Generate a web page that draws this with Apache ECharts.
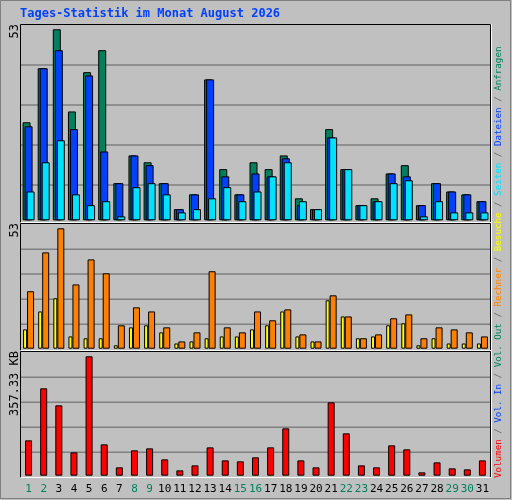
<!DOCTYPE html>
<html><head><meta charset="utf-8">
<script src="https://cdn.jsdelivr.net/npm/echarts@6/dist/echarts.min.js"></script>
<style>html,body{margin:0;padding:0;background:#c0c0c0}#c{width:512px;height:500px}</style>
</head><body><div id="c"></div>
<script>
const days = Array.from({length:31},(_,i)=>String(i+1));
const weekend = ['1','2','8','9','15','16','22','23','29','30'];
const anfragen = [27.2,42.2,53,30.2,41.1,47.2,10.3,18,16.1,10.3,3.1,7.2,39.1,14.2,7.2,16.1,14.2,18,6.1,3.1,25.3,14.2,4.2,6.1,13,15.3,4.2,10.3,8,7.2,5.3];
const dateien = [26.1,42.2,47.2,25.3,40.2,19.1,10.3,18,15.3,10.3,3.1,7.2,39.1,12.2,7.2,13,12.2,17.2,4.2,3.1,23,14.2,4.2,5.3,13,12.2,4.2,10.3,8,7.2,5.3];
const seiten = [8,16.1,22.2,7.2,4.2,5.3,1.1,9.2,10.3,7.2,2.2,3.1,6.1,9.2,5.3,8,12.2,16.1,5.3,3.1,23,14.2,4.2,5.3,10.3,11.1,1.1,5.3,2.2,2.2,2.2];
const besuche = [8.5,16.4,22.2,5.4,4.6,4.6,1.5,9.4,10.3,7.2,2.3,3.2,4.6,5.4,5.4,8.5,10.3,16.4,5.4,3.2,21.3,14.2,4.6,5.4,10.3,11.2,1.5,4.6,2.3,2.3,2.3];
const rechner = [25.3,42.4,53,28.3,39.3,33.2,10.3,18.2,16.4,9.4,3.2,7.2,34.1,9.4,7.2,16.4,12.5,17.3,6.3,3.2,23.5,14.2,4.6,6.3,13.4,15.1,4.6,9.4,8.5,7.2,5.4];
const volumen = [105.8,261.5,210.6,69.9,357.33,93.8,25,75.9,81.8,48.9,16,30.9,84.8,45.9,42.9,54.9,84.8,141.7,45.9,25,219.6,126.8,30.9,25,90.8,78.9,10,39.9,22,19,45.9];

const L=21, R=22;
const grids=[{left:L,right:R,top:29.3,height:191},{left:L,right:R,top:228.3,height:120.4},{left:L,right:R,top:356.3,height:119.4}];
const maxes=[53,53,357.33];
const mono='DejaVu Sans Mono';
const xAxis=grids.map((g,i)=>({gridIndex:i,type:'category',data:days,axisLine:{show:false},axisTick:{show:false},
  axisLabel:{show:i===2,interval:0,margin:8,fontFamily:mono,fontSize:11,formatter:v=>weekend.includes(v)?'{w|'+v+'}':'{n|'+v+'}',
    rich:{w:{color:'#00805c',fontFamily:mono,fontSize:11},n:{color:'#000',fontFamily:mono,fontSize:11}}}}));
const yAxis=grids.map((g,i)=>({gridIndex:i,type:'value',min:0,max:maxes[i],show:false,splitLine:{show:false}}));
const bs=(name,data,color,xi,extra)=>Object.assign({name,type:'bar',data,xAxisIndex:xi,yAxisIndex:xi,itemStyle:{color,borderColor:'#000',borderWidth:1},z:3},extra);
const series=[
 bs('Anfragen',anfragen,'#00805c',0,{barWidth:8,barGap:'-75%'}),
 bs('Dateien',dateien,'#0040ff',0,{barWidth:8,barGap:'-75%'}),
 bs('Seiten',seiten,'#00e0ff',0,{barWidth:8,barGap:'-75%'}),
 bs('Besuche',besuche,'#ffff00',1,{barWidth:4,barGap:'0%'}),
 bs('Rechner',rechner,'#ff8000',1,{barWidth:7,barGap:'0%'}),
 bs('Volumen',volumen,'#ff0000',2,{barWidth:7})
];
const graphic=[];
const frames=[[24,222],[223,350],[351,477]];
const glines=[[65,105,145,185],[249.3,274,299.3,324.3],[377.3,402.3,427.3,452.3]];
frames.forEach((f,i)=>{
  graphic.push({type:'rect',shape:{x:20.5,y:f[0]+0.5,width:470,height:f[1]-f[0]},style:{fill:'#c0c0c0',stroke:'#000',lineWidth:1},z:-10});
  graphic.push({type:'polyline',shape:{points:[[20.5,f[1]+0.5],[491.5,f[1]+0.5],[491.5,f[0]]]},style:{stroke:'#fff',lineWidth:1,fill:null},z:-9});
  glines[i].forEach(y=>graphic.push({type:'line',shape:{x1:21,y1:y,x2:490,y2:y},style:{stroke:'#808080',lineWidth:1.5},z:-8}));
});
graphic.push({type:'rect',shape:{x:0.5,y:0.5,width:510,height:498},style:{fill:null,stroke:'#808080',lineWidth:1},z:-11});
graphic.push({type:'text',left:20,top:8,style:{text:'Tages-Statistik im Monat August 2026',fill:'#0040ff',font:'bold 12px "DejaVu Sans Mono"'}});
const vt=(text,x,y,color)=>({type:'text',x,y,rotation:Math.PI/2,style:{text,fill:color,font:'12px "DejaVu Sans Mono"',align:'right',verticalAlign:'middle'}});
graphic.push(vt('53',15,24,'#000'));
graphic.push(vt('53',15,223,'#000'));
graphic.push(vt('357.33 KB',15,351,'#000'));
const F='9.2px "DejaVu Sans Mono"';
graphic.push({type:'text',x:499,y:478,rotation:Math.PI/2,style:{
  text:'{r|Volumen} {s|/} {b|Vol. In} {s|/} {g|Vol. Out} {s|/} {o|Rechner} {s|/} {y|Besuche} {s|/} {c|Seiten} {s|/} {b|Dateien} {s|/} {g|Anfragen}',
  align:'left',verticalAlign:'middle',font:F,
  rich:{r:{fill:'#ff0000',font:F},b:{fill:'#0040ff',font:F},g:{fill:'#00805c',font:F},
   o:{fill:'#ff8000',font:F},y:{fill:'#ffff00',font:F},c:{fill:'#00e0ff',font:F},s:{fill:'#606060',font:F}}}});
const chart=echarts.init(document.getElementById('c'));
chart.setOption({animation:false,backgroundColor:'#c0c0c0',grid:grids,xAxis,yAxis,series,graphic});
</script></body></html>
